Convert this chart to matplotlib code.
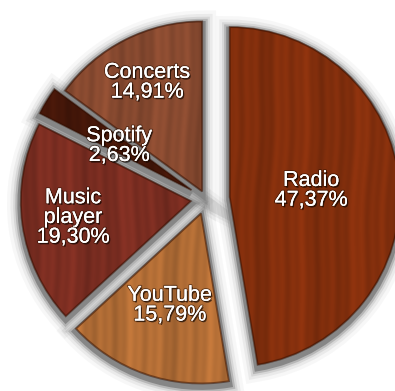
import numpy as np
import matplotlib
matplotlib.use("Agg")
import matplotlib.pyplot as plt
import matplotlib.colors as mcolors
import matplotlib.patches as mpatches
import matplotlib.patheffects as pe

labels = ["Radio", "YouTube", "Music\nplayer", "Spotify", "Concerts"]
shares = [47.37, 15.79, 19.30, 2.63, 14.91]
pct_text = ["47,37%", "15,79%", "19,30%", "2,63%", "14,91%"]
wood = ["#8e330e", "#c0763a", "#853124", "#4b190a", "#935034"]
explode = [0.14, 0.09, 0.09, 0.10, 0.05]   # fraction of the radius
label_dist = [0.48, 0.57, 0.70, 0.50, 0.72]

W, H = 395, 391
center = (206, 192)
R = 170
expl = [e * R for e in explode]

fig = plt.figure(figsize=(W / 100, H / 100), dpi=100)
ax = fig.add_axes([0, 0, 1, 1])

# blurred grey shadow under the slices
shadow_center = (center[0], center[1] - 3)
for lw, a in [(20, 0.05), (15, 0.09), (11, 0.15), (8, 0.3)]:
    ax.pie(shares, explode=expl, center=shadow_center, radius=R, startangle=90,
           counterclock=False, colors=["none"] * len(shares),
           wedgeprops=dict(edgecolor=(0.42, 0.42, 0.42, a), linewidth=lw, facecolor="none"))
ax.pie(shares, explode=expl, center=shadow_center, radius=R, startangle=90,
       counterclock=False, colors=["#868686"] * len(shares),
       wedgeprops=dict(edgecolor="#868686", linewidth=5))

# the slices themselves
wedges, _ = ax.pie(shares, explode=expl, center=center, radius=R, startangle=90,
                   counterclock=False, colors=wood, wedgeprops=dict(linewidth=0))

yy, xx = np.mgrid[0:H, 0:W]


def grain(base, k):
    wave = xx + 3 * np.sin(yy / 70.0 + k) + 1.2 * np.sin(yy / 23.0 + 2 * k)
    g = (np.sin(wave / 1.6 + k) * 0.35 + np.sin(wave / 4.3 + 1.7 * k) * 0.4
         + np.sin(wave / 11.0 + k) * 0.35)
    shade = 0.92 + 0.11 * g
    rgb = np.array(mcolors.to_rgb(base))[None, None, :] * shade[..., None]
    return np.clip(rgb, 0, 1)


for i, w in enumerate(wedges):
    im = ax.imshow(grain(wood[i], i * 1.3), extent=(0, W, 0, H), origin="lower",
                   zorder=2, interpolation="bilinear")
    im.set_clip_path(w)
    rim = mpatches.Wedge(w.center, w.r, w.theta1, w.theta2, facecolor="none",
                         edgecolor=(0.18, 0.05, 0.0, 0.5), linewidth=1.4, zorder=2.5)
    ax.add_patch(rim)

    mid = np.deg2rad((w.theta1 + w.theta2) / 2)
    tx = w.center[0] + label_dist[i] * w.r * np.cos(mid)
    ty = w.center[1] + label_dist[i] * w.r * np.sin(mid)
    ax.text(tx, ty, labels[i] + "\n" + pct_text[i], ha="center", va="center",
            color="white", fontsize=15.5, family="Liberation Sans", linespacing=0.92,
            zorder=3,
            path_effects=[pe.withSimplePatchShadow(offset=(1, -1.2), shadow_rgbFace="black", alpha=0.6),
                          pe.withStroke(linewidth=1.6, foreground=(0.15, 0.05, 0.0, 0.5)),
                          pe.Normal()])

ax.set_xlim(0, W)
ax.set_ylim(0, H)
ax.set_aspect("equal")
ax.axis("off")

fig.savefig("out.png", dpi=100, facecolor="white")
